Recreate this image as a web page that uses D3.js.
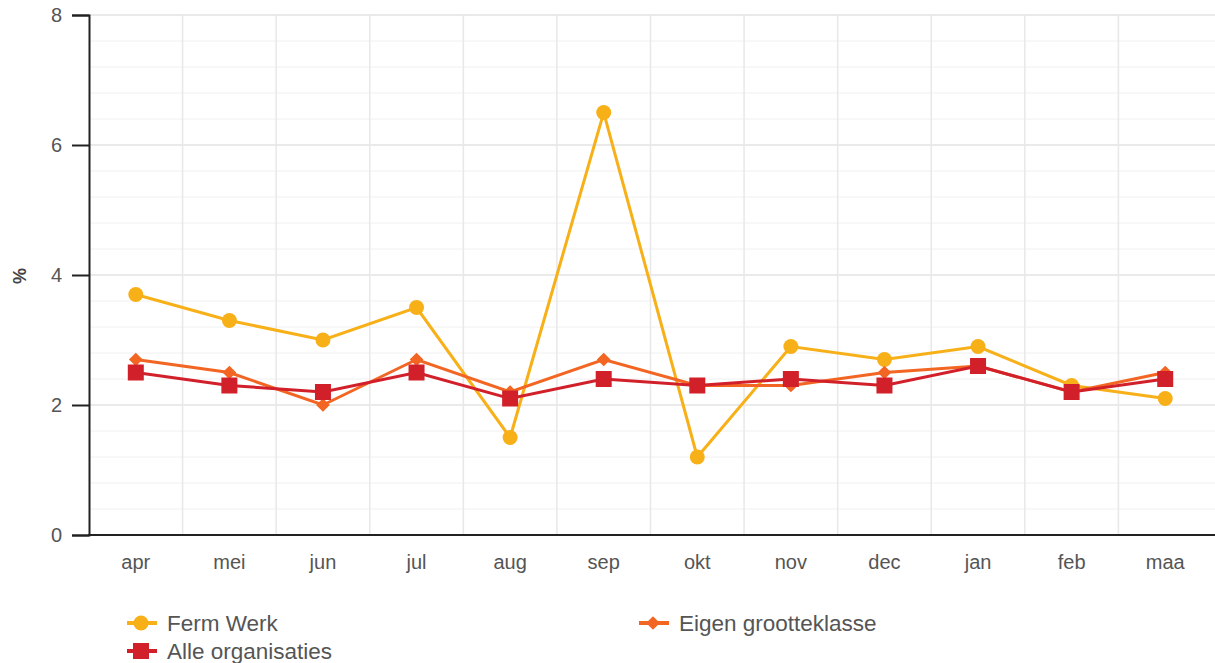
<!DOCTYPE html>
<html>
<head>
<meta charset="utf-8">
<script src="https://cdn.jsdelivr.net/npm/d3@7"></script>
<style>
body { margin: 0; background: #fff; font-family: "Liberation Sans", Arial, sans-serif; }
.tick text { fill: #555; font-size: 20px; font-family: "Liberation Sans", Arial, sans-serif; }
</style>
</head>
<body>
<svg id="chart" width="1215" height="663"></svg>
<script>
var months = ["apr","mei","jun","jul","aug","sep","okt","nov","dec","jan","feb","maa"];
var ferm_werk = [3.7, 3.3, 3.0, 3.5, 1.5, 6.5, 1.2, 2.9, 2.7, 2.9, 2.3, 2.1];
var eigen_grootteklasse = [2.7, 2.5, 2.0, 2.7, 2.2, 2.7, 2.3, 2.3, 2.5, 2.6, 2.2, 2.5];
var alle_organisaties = [2.5, 2.3, 2.2, 2.5, 2.1, 2.4, 2.3, 2.4, 2.3, 2.6, 2.2, 2.4];
var y_ticks = [0, 2, 4, 6, 8];

var series = [
    {name: "Ferm Werk", values: ferm_werk, color: "#f7b018", shape: "circle"},
    {name: "Eigen grootteklasse", values: eigen_grootteklasse, color: "#f26522", shape: "diamond"},
    {name: "Alle organisaties", values: alle_organisaties, color: "#d2202a", shape: "square"}
];

var plotLeft = 89, plotTop = 15, plotRight = 1212, plotBottom = 535;

var xscale = d3.scaleBand().domain(months).range([plotLeft, plotRight]);
var yscale = d3.scaleLinear().domain([0, 8]).range([plotBottom, plotTop]);

var svg = d3.select("#chart");

// minor grid every 0.4
var minor = d3.range(0, 8.01, 0.4);
svg.append("g").selectAll("line").data(minor).enter().append("line")
    .attr("x1", plotLeft).attr("x2", 1215)
    .attr("y1", function (d) { return yscale(d); })
    .attr("y2", function (d) { return yscale(d); })
    .attr("stroke", "#f0f0f0").attr("stroke-width", 1);

// major grid
svg.append("g").selectAll("line").data(y_ticks).enter().append("line")
    .attr("x1", plotLeft).attr("x2", 1215)
    .attr("y1", function (d) { return yscale(d); })
    .attr("y2", function (d) { return yscale(d); })
    .attr("stroke", "#e6e6e6").attr("stroke-width", 1.5);

// vertical grid at band edges
svg.append("g").selectAll("line").data(months.slice(1)).enter().append("line")
    .attr("x1", function (d) { return xscale(d); })
    .attr("x2", function (d) { return xscale(d); })
    .attr("y1", plotTop).attr("y2", plotBottom)
    .attr("stroke", "#e8e8e8").attr("stroke-width", 1.5);

// axes
var yaxis = d3.axisLeft(yscale).tickValues(y_ticks).tickSize(17).tickPadding(10);
var gy = svg.append("g").attr("transform", "translate(" + plotLeft + ",0)").call(yaxis);
gy.select(".domain").attr("stroke", "#222").attr("stroke-width", 2);
gy.selectAll(".tick line").attr("stroke", "#222").attr("stroke-width", 2);

var xaxis = d3.axisBottom(xscale).tickSize(0).tickPadding(20);
var gx = svg.append("g").attr("transform", "translate(0," + plotBottom + ")").call(xaxis);
gx.select(".domain").remove();
svg.append("line").attr("x1", plotLeft - 1).attr("x2", 1215).attr("y1", plotBottom).attr("y2", plotBottom)
    .attr("stroke", "#222").attr("stroke-width", 2);

// y label
svg.append("text")
    .attr("transform", "translate(26," + (yscale(4) + 1) + ") rotate(-90)")
    .attr("text-anchor", "middle")
    .attr("fill", "#444").attr("font-size", 18).attr("font-weight", "bold")
    .text("%");

function drawMarker(g, shape, color, x, y) {
    if (shape === "circle") {
        g.append("circle").attr("cx", x).attr("cy", y).attr("r", 7.5).attr("fill", color);
    } else if (shape === "square") {
        g.append("rect").attr("x", x - 8).attr("y", y - 8).attr("width", 16).attr("height", 16).attr("fill", color);
    } else {
        g.append("path").attr("d", d3.symbol(d3.symbolDiamond2, 120)()).attr("transform", "translate(" + x + "," + y + ")").attr("fill", color);
    }
}

var line = d3.line()
    .x(function (d, i) { return xscale(months[i]) + xscale.bandwidth() / 2; })
    .y(function (d) { return yscale(d); });

series.forEach(function (s) {
    var g = svg.append("g");
    g.append("path").datum(s.values).attr("d", line)
        .attr("fill", "none").attr("stroke", s.color).attr("stroke-width", 3);
    s.values.forEach(function (v, i) {
        drawMarker(g, s.shape, s.color, xscale(months[i]) + xscale.bandwidth() / 2, yscale(v));
    });
});

// legend
var legendPos = [[127, 623], [639, 623], [127, 651]];
series.forEach(function (s, i) {
    var p = legendPos[i];
    var g = svg.append("g").attr("transform", "translate(" + p[0] + "," + p[1] + ")");
    g.append("line").attr("x1", 0).attr("x2", 30).attr("y1", 0).attr("y2", 0)
        .attr("stroke", s.color).attr("stroke-width", 4);
    drawMarker(g, s.shape, s.color, 14, 0);
    g.append("text").attr("x", 40).attr("y", 8).attr("fill", "#555").attr("font-size", 22.5).text(s.name);
});
</script>
</body>
</html>
